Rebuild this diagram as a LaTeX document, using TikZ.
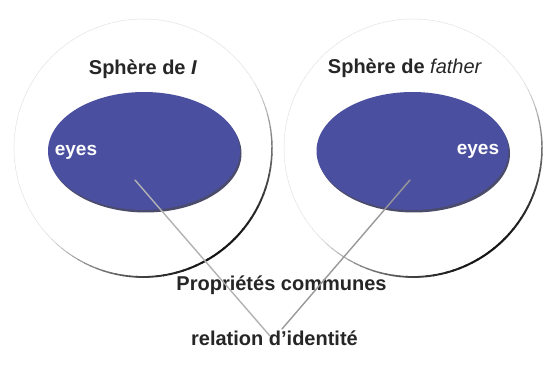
\documentclass[tikz,border=0pt]{standalone}
\usepackage{fontspec}
\setmainfont{Liberation Sans}
\usetikzlibrary{shapes.geometric}
\definecolor{ellblue}{RGB}{74,79,160}
\definecolor{ellshadow}{RGB}{30,32,70}
\begin{document}
\begin{tikzpicture}[x=1pt,y=1pt,
  sphere/.style={circle,minimum size=258pt,inner sep=0pt},
  blob/.style={ellipse,minimum width=192pt,minimum height=118pt,inner sep=0pt,fill=ellblue},
  blobshadow/.style={ellipse,minimum width=192pt,minimum height=118pt,inner sep=0pt,fill=ellshadow},
  title/.style={font=\fontsize{20}{24}\selectfont\bfseries,text=black!85,inner sep=0pt},
  eyeslabel/.style={font=\fontsize{19}{23}\selectfont\bfseries,text=white,inner sep=0pt},
  link/.style={line width=1.4pt,line cap=round}]
\useasboundingbox (0,0) rectangle (558,367);
\fill[white] (0,0) rectangle (558,367);
% spheres
\node[sphere] (sL) at (143,219) {};
\node[sphere] (sR) at (413,219) {};
\foreach \c in {sL,sR}{
  \foreach \a in {0,3,...,357}{
    \pgfmathsetmacro\k{max(10,92*cos(\a+55))}
    \pgfmathsetmacro\w{0.5+1.6*max(0,cos(\a+55))}
    \draw[line width=\w pt,black!\k,line cap=round] (\c.center) ++(\a:129) arc (\a:\a+3.2:129);
  }
}
% inner ellipses
\node[blobshadow,opacity=0.8] at (145.5,213.5) {};
\node[blob] (eL) at (144,216) {};
\node[blobshadow,opacity=0.8] at (414,213.5) {};
\node[blob] (eR) at (412.5,216) {};
% labels
\node[title] (tL) at (143,298) {Sphère de \textit{I}};
\node[title] (tR) at (405,299) {Sphère de \textmd{\textit{father}}};
\node[eyeslabel] (yL) at (76,215) {eyes};
\node[eyeslabel] (yR) at (478,216) {eyes};
\node[title] (pc) at (281.5,82) {Propriétés communes};
\node[title] (ri) at (274.5,29) {relation d’identité};
% connectors
\coordinate (aL) at (135,187);
\coordinate (bL) at (270,31);
\coordinate (aR) at (410,187);
\coordinate (bR) at (282,38);
\draw[link,gray!60] (aL) -- (bL);
\draw[link,gray!80] (aR) -- (bR);
\end{tikzpicture}
\end{document}
